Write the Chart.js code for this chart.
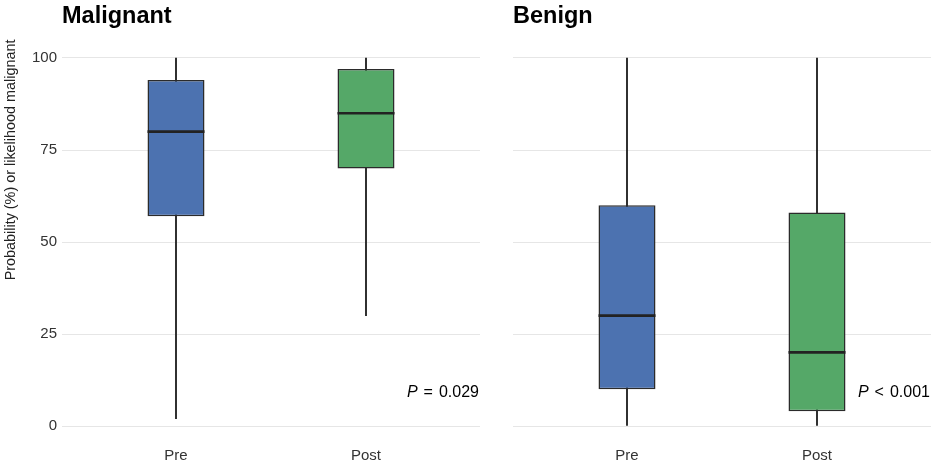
<!DOCTYPE html>
<html>
<head>
<meta charset="utf-8">
<script src="https://cdn.jsdelivr.net/npm/chart.js@4.4.1/dist/chart.umd.min.js"></script>
<style>
  html, body { margin: 0; padding: 0; background: #fff; }
  #wrap { position: relative; width: 935px; height: 465px; }
  canvas { position: absolute; top: 0; }
</style>
</head>
<body>
<div id="wrap">
  <canvas id="malignant" width="480" height="465" style="left:0"></canvas>
  <canvas id="benign" width="455" height="465" style="left:480px"></canvas>
</div>
<script>
const groups = ["Pre", "Post"];
const yTicks = [0, 25, 50, 75, 100];

const malignantMin = [2, 30];
const malignantQ1 = [57, 70];
const malignantMedian = [80, 85];
const malignantQ3 = [94, 97];
const malignantMax = [100, 100];

const benignMin = [0, 0];
const benignQ1 = [10, 4];
const benignMedian = [30, 20];
const benignQ3 = [60, 58];
const benignMax = [100, 100];

const pOperators = ["=", "<"];
const pNumbers = ["0.029", "0.001"];

const FONT = '"Liberation Sans", Arial, Helvetica, sans-serif';
const boxColors = ["#4c72b0", "#55a868"];

// title above each panel and the P value in its bottom right corner
const panelText = {
  id: "panelText",
  afterDraw(chart, args, opts) {
    const { ctx, chartArea, scales } = chart;
    ctx.save();
    ctx.fillStyle = "#000";
    ctx.textBaseline = "alphabetic";
    ctx.textAlign = "left";
    ctx.font = "bold 23.5px " + FONT;
    ctx.fillText(opts.title, chartArea.left, 22.5);

    const y = scales.y.getPixelForValue(8);
    const right = chartArea.right - 1;
    ctx.textAlign = "right";
    ctx.font = "16px " + FONT;
    ctx.fillText(opts.pNumber, right, y);
    const opX = right - ctx.measureText(opts.pNumber).width - 6;
    ctx.fillText(opts.pOperator, opX, y);
    const pX = opX - ctx.measureText(opts.pOperator).width - 6;
    ctx.font = "italic 16px " + FONT;
    ctx.fillText("P", pX, y);
    ctx.restore();
  }
};

function makePanel(id, title, mins, q1s, medians, q3s, maxs, pOperator, pNumber, leftAxis) {
  const whiskers = groups.map((g, i) => ({ x: i + 1, y: [mins[i], maxs[i]] }));
  const boxes = groups.map((g, i) => ({ x: i + 1, y: [q1s[i], q3s[i]] }));
  const mids = groups.map((g, i) => ({ x: i + 1, y: medians[i] }));

  return new Chart(document.getElementById(id), {
    type: "bar",
    data: {
      datasets: [
        {
          data: whiskers,
          backgroundColor: "#222",
          borderWidth: 0,
          barThickness: 1.2,
          grouped: false,
          order: 3,
        },
        {
          data: boxes,
          backgroundColor: boxColors,
          borderColor: "#2b2b2b",
          borderWidth: 1.5,
          borderSkipped: false,
          barPercentage: 0.3,
          categoryPercentage: 1,
          grouped: false,
          order: 2,
        },
        {
          type: "line",
          data: mids,
          showLine: false,
          pointStyle: "line",
          pointRadius: 28.5,
          pointHoverRadius: 28.5,
          pointBorderWidth: 2.6,
          borderColor: "#222",
          clip: false,
          order: 1,
        },
      ],
    },
    options: {
      responsive: false,
      animation: false,
      events: [],
      layout: {
        autoPadding: false,
        padding: { top: 39.6, right: leftAxis ? 0 : 4, bottom: 0, left: 0 },
      },
      plugins: {
        legend: { display: false },
        tooltip: { enabled: false },
        panelText: { title, pOperator, pNumber },
      },
      scales: {
        x: {
          type: "linear",
          min: 0.4,
          max: 2.6,
          offset: false,
          afterBuildTicks: (s) => {
            s.ticks = groups.map((g, i) => ({ value: i + 1 }));
          },
          afterFit: (s) => {
            s.height = 20.6;
          },
          ticks: {
            callback: (v) => groups[Math.round(v) - 1],
            font: { family: FONT, size: 15 },
            color: "#333",
            padding: 2,
          },
          grid: { display: false, drawTicks: false },
          border: { display: false },
        },
        y: {
          min: -5,
          max: 105,
          afterBuildTicks: (s) => {
            s.ticks = yTicks.map((v) => ({ value: v }));
          },
          afterFit: (s) => {
            s.width = leftAxis ? 62 : 33;
          },
          ticks: {
            display: leftAxis,
            font: { family: FONT, size: 15 },
            color: "#333",
            padding: 5,
          },
          grid: { color: "#e6e6e6", lineWidth: 1, drawTicks: false },
          border: { display: false },
          title: {
            display: leftAxis,
            text: "Probability (%) or likelihood malignant",
            align: "end",
            font: { family: FONT, size: 14.4 },
            color: "#222",
            padding: { top: 2, bottom: 0 },
          },
        },
      },
    },
    plugins: [panelText],
  });
}

makePanel("malignant", "Malignant", malignantMin, malignantQ1, malignantMedian,
  malignantQ3, malignantMax, pOperators[0], pNumbers[0], true);
makePanel("benign", "Benign", benignMin, benignQ1, benignMedian,
  benignQ3, benignMax, pOperators[1], pNumbers[1], false);
</script>
</body>
</html>
